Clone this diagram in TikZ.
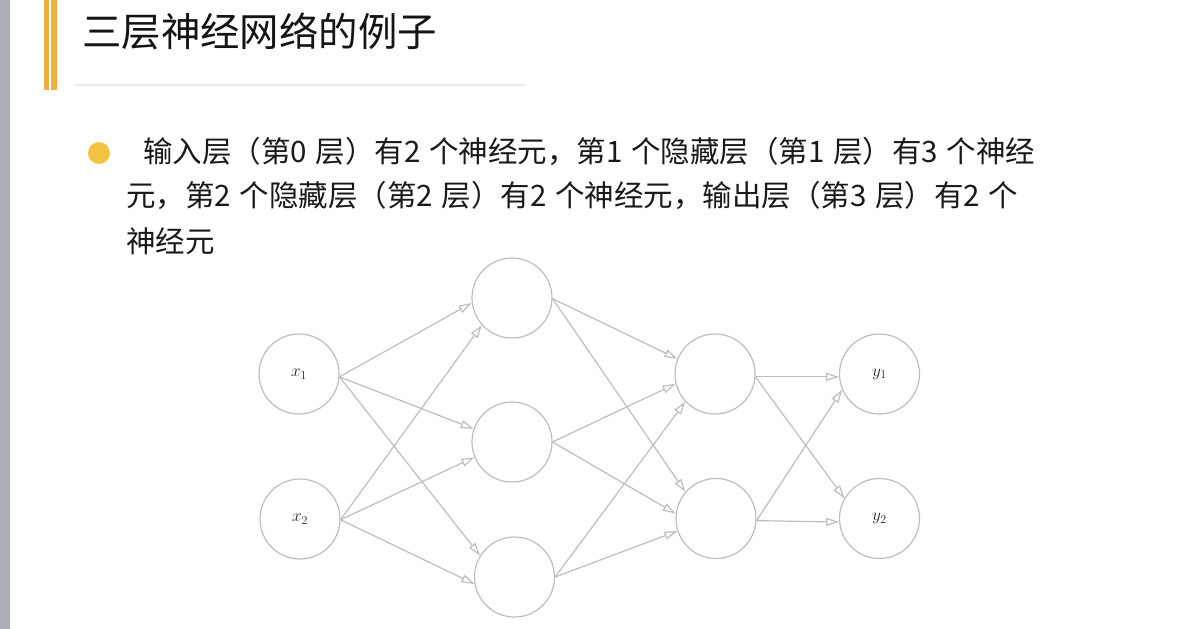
\documentclass[tikz,border=0pt]{standalone}
\usepackage{fontspec}
\newfontfamily\cjk{Noto Sans CJK SC}
\newfontfamily\cjkbody[WordSpace=1.3]{Noto Sans CJK SC}
\usetikzlibrary{arrows.meta}
\definecolor{sidegray}{HTML}{AAAFB8}
\definecolor{barorange}{HTML}{F0B03F}
\definecolor{bulletc}{HTML}{F5C342}
\definecolor{netgray}{HTML}{BEBEBE}
\definecolor{divgray}{HTML}{EBEBEB}
\begin{document}
\begin{tikzpicture}[x=1pt,y=-1pt,
  neuron/.style={circle,draw=netgray,line width=1.2pt,minimum size=80pt,inner sep=0pt,
    font=\fontsize{18}{20}\selectfont,text=black!85},
  conn/.style={draw=netgray,line width=1.2pt,-{Triangle[open,length=13pt,width=8pt]}},
  titletext/.style={anchor=base west,inner sep=0pt,font=\cjk\fontsize{39.4}{41}\selectfont,text=black!92},
  bodytext/.style={anchor=base west,inner sep=0pt,font=\cjkbody\fontsize{29.5}{31}\selectfont,text=black!90}]
\useasboundingbox (0,0) rectangle (1184,629);
\fill[white] (0,0) rectangle (1184,629);
\fill[sidegray] (0,0) rectangle (9.6,629);
\fill[barorange] (44,0) rectangle (49,90);
\fill[barorange] (51,0) rectangle (57,90);
\node[titletext] (title) at (82,46) {三层神经网络的例子};
\draw[divgray,line width=1.5pt] (75,85) -- (525,85);
\fill[bulletc] (99,153) circle[radius=11pt];
\node[bodytext] (l1) at (143,162) {输入层（第0 层）有2 个神经元，第1 个隐藏层（第1 层）有3 个神经};
\node[bodytext] (l2) at (126,206) {元，第2 个隐藏层（第2 层）有2 个神经元，输出层（第3 层）有2 个};
\node[bodytext] (l3) at (126,252) {神经元};
% neurons
\node[neuron] (x1) at (299,374) {$x_1$};
\node[neuron] (x2) at (300,519) {$x_2$};
\node[neuron] (h1a) at (512,298) {};
\node[neuron] (h1b) at (512,442) {};
\node[neuron] (h1c) at (514.5,577) {};
\node[neuron] (h2a) at (715,374) {};
\node[neuron] (h2b) at (716,518.5) {};
\node[neuron] (y1) at (879.5,374) {$y_1$};
\node[neuron] (y2) at (879.5,518.5) {$y_2$};
% connections
\draw[conn] (x1.-4) -- (h1a.187);
\draw[conn] (x1.-4) -- (h1b.161);
\draw[conn] (x1.-4) -- (h1c.148);
\draw[conn] (x2.-1) -- (h1a.222);
\draw[conn] (x2.-1) -- (h1b.202);
\draw[conn] (x2.-1) -- (h1c.190);
\draw[conn] (h1a.-1) -- (h2a.158);
\draw[conn] (h1a.-1) -- (h2b.139);
\draw[conn] (h1b.0) -- (h2a.194);
\draw[conn] (h1b.0) -- (h2b.173);
\draw[conn] (h1c.0) -- (h2a.223);
\draw[conn] (h1c.0) -- (h2b.198);
\draw[conn] (h2a.-4) -- (y1.184);
\draw[conn] (h2a.-4) -- (y2.150);
\draw[conn] (h2b.-3) -- (y1.203);
\draw[conn] (h2b.-3) -- (y2.185);
\end{tikzpicture}
\end{document}
